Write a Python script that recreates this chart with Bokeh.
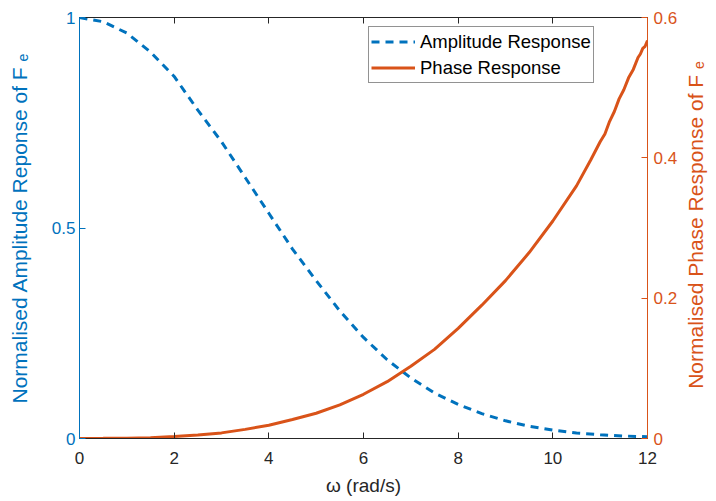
import math
from bokeh.plotting import figure
from bokeh.models import (Range1d, LinearAxis, FixedTicker, Legend, LegendItem,
                          Label)
from bokeh.embed import file_html
from bokeh.resources import INLINE

# ---- data ----
omega = [0, 0.5, 1, 1.5, 2, 2.5, 3, 3.5, 4, 4.5, 5, 5.5, 6, 6.5, 7, 7.5,
         8, 8.5, 9, 9.5, 10, 10.5, 11, 11.5, 12]
amplitude = [1.0, 0.99, 0.963, 0.918, 0.86, 0.78, 0.705, 0.62, 0.535, 0.45,
             0.375, 0.303, 0.24, 0.187, 0.144, 0.108, 0.081, 0.059, 0.042,
             0.029, 0.02, 0.013, 0.009, 0.006, 0.004]
omega_phase = [0, 0.5, 1, 1.5, 2, 2.5, 3, 3.5, 4, 4.5, 5, 5.5, 6, 6.5, 7,
               7.5, 8, 8.5, 9, 9.5, 10, 10.5, 10.8, 11, 11.1, 11.2, 11.3,
               11.4, 11.5, 11.6, 11.7, 11.8, 11.85, 11.9, 11.95, 12]
phase = [0, 0.0002, 0.0005, 0.0012, 0.003, 0.005, 0.008, 0.013, 0.019,
         0.027, 0.036, 0.048, 0.063, 0.081, 0.103, 0.127, 0.157, 0.19, 0.225,
         0.265, 0.31, 0.36, 0.397, 0.423, 0.434, 0.452, 0.466, 0.484, 0.497,
         0.514, 0.526, 0.543, 0.548, 0.556, 0.559, 0.567]

x_ticks = [0, 2, 4, 6, 8, 10, 12]
left_ticks = [0, 0.5, 1]
left_tick_labels = ["0", "0.5", "1"]
right_ticks = [0, 0.2, 0.4, 0.6]
right_tick_labels = ["0", "0.2", "0.4", "0.6"]

BLUE = "#0072BD"
ORANGE = "#D95319"
DARK = "#262626"
FONT = "Liberation Sans"

p = figure(width=712, height=498, output_backend="svg", toolbar_location=None,
           x_range=Range1d(0, 12), y_range=Range1d(0, 1),
           min_border_left=79, min_border_right=65, min_border_top=17,
           min_border_bottom=60)
p.extra_y_ranges = {"phase": Range1d(0, 0.6)}
p.xgrid.visible = False
p.ygrid.visible = False
p.outline_line_color = DARK
p.background_fill_color = "white"
p.border_fill_color = "white"

amp_r = p.line(omega, amplitude, line_color=BLUE, line_width=3,
               line_dash="8 6")
ph_r = p.line(omega_phase, phase, line_color=ORANGE, line_width=3,
              y_range_name="phase")

# bottom axis
xa = p.xaxis[0]
xa.ticker = FixedTicker(ticks=x_ticks)
xa.axis_label = "ω (rad/s)"
xa.axis_label_text_font_style = "normal"
xa.axis_label_text_font = FONT
xa.axis_label_text_font_size = "19px"
xa.axis_label_text_color = DARK
xa.axis_label_standoff = 8
xa.major_label_text_font = FONT
xa.major_label_text_font_size = "17px"
xa.major_label_text_color = DARK
xa.major_label_standoff = 13
xa.axis_line_color = DARK
xa.major_tick_line_color = DARK
xa.major_tick_in = 6
xa.major_tick_out = 0
xa.minor_tick_line_color = None

# left axis
ya = p.yaxis[0]
ya.ticker = FixedTicker(ticks=left_ticks)
ya.major_label_overrides = {t: s for t, s in zip(left_ticks, left_tick_labels)}
ya.axis_label = "Normalised Amplitude Reponse of F ₑ"
ya.axis_label_text_font_style = "normal"
ya.axis_label_text_font = FONT
ya.axis_label_text_font_size = "21px"
ya.axis_label_text_color = BLUE
ya.axis_label_standoff = 18
ya.major_label_text_font = FONT
ya.major_label_text_font_size = "17px"
ya.major_label_text_color = BLUE
ya.major_label_standoff = 4
ya.axis_line_color = BLUE
ya.major_tick_line_color = BLUE
ya.major_tick_in = 6
ya.major_tick_out = 0
ya.minor_tick_line_color = None

# right axis (ticks + labels)
ra = LinearAxis(y_range_name="phase", ticker=FixedTicker(ticks=right_ticks))
ra.major_label_overrides = {t: s for t, s in zip(right_ticks, right_tick_labels)}
ra.major_label_text_font = FONT
ra.major_label_text_font_size = "17px"
ra.major_label_text_color = ORANGE
ra.major_label_standoff = 6
ra.axis_line_color = ORANGE
ra.major_tick_line_color = ORANGE
ra.major_tick_in = 6
ra.major_tick_out = 0
ra.minor_tick_line_color = None
p.add_layout(ra, "right")

# right axis title, reading bottom-to-top like the reference
right_title = Label(x=12, y=0.3, y_range_name="phase",
                    text="Normalised Phase Response of F ₑ",
                    angle=math.pi / 2, x_offset=48, y_offset=3,
                    text_align="center", text_baseline="middle",
                    text_font=FONT, text_font_size="21px",
                    text_color=ORANGE)
p.add_layout(right_title, "right")

# top axis (ticks only)
ta = LinearAxis(ticker=FixedTicker(ticks=x_ticks))
ta.major_label_overrides = {t: "" for t in x_ticks}
ta.major_label_standoff = 0
ta.axis_line_color = DARK
ta.major_tick_line_color = DARK
ta.major_tick_in = 6
ta.major_tick_out = 0
ta.minor_tick_line_color = None
p.add_layout(ta, "above")

legend = Legend(items=[LegendItem(label="Amplitude Response", renderers=[amp_r]),
                       LegendItem(label="Phase Response", renderers=[ph_r])],
                location=(289, 355))
legend.label_text_font = FONT
legend.label_text_font_size = "18.5px"
legend.label_text_color = "black"
legend.glyph_width = 44
legend.glyph_height = 25
legend.label_height = 25
legend.label_standoff = 5
legend.spacing = 1
legend.padding = 2
legend.margin = 0
legend.border_line_color = DARK
legend.border_line_width = 1
legend.background_fill_alpha = 1.0
p.add_layout(legend)

open("out.html", "w").write(file_html(p, INLINE))
